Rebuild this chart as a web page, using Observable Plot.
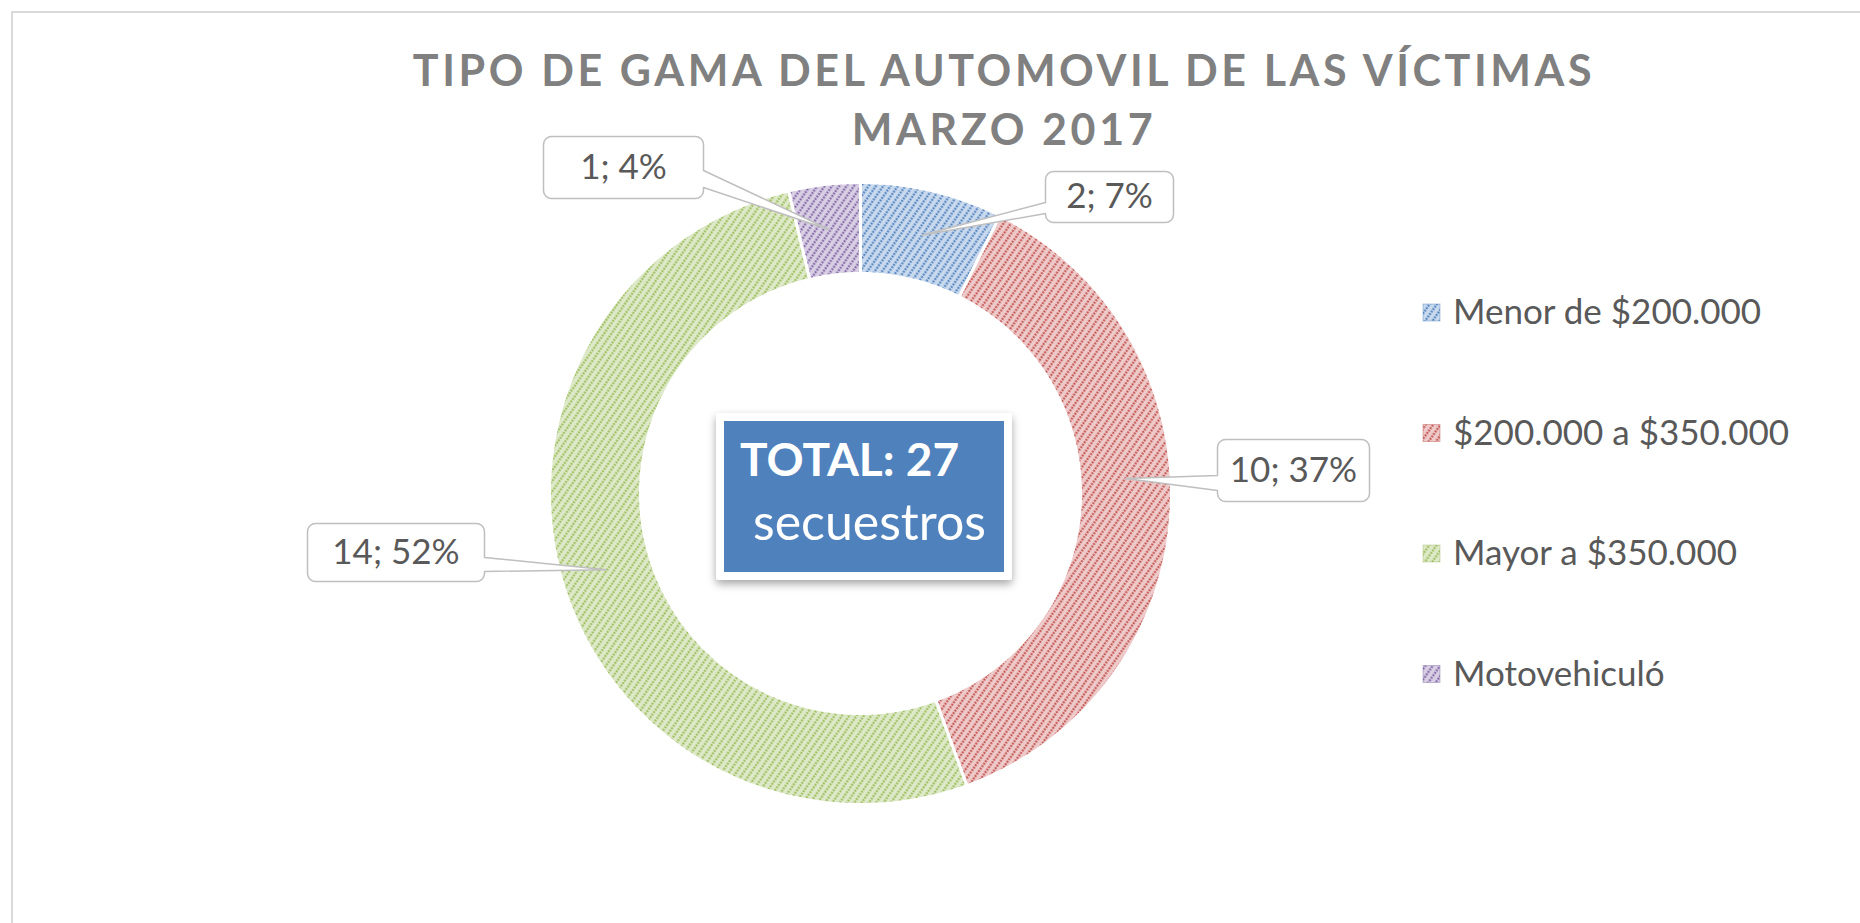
<!DOCTYPE html>
<html><head><meta charset="utf-8">
<script src="https://cdn.jsdelivr.net/npm/d3@7"></script>
<script src="https://cdn.jsdelivr.net/npm/@observablehq/plot@0.6"></script>
<style>
html,body{margin:0;padding:0;background:#fff;overflow:hidden;width:1860px;height:923px;}
#frame{position:absolute;left:11px;top:11px;width:1900px;height:1000px;border-left:2px solid #d9d9d9;border-top:2px solid #d9d9d9;}
#chart{position:absolute;left:0;top:0;}
#overlay{position:absolute;left:0;top:0;pointer-events:none;}
text{font-family:Lato, "Open Sans", sans-serif;}
</style></head><body>
<div id="frame"></div>
<div id="chart"></div>
<svg id="overlay" width="1860" height="923"></svg>
<script>
// ---- data ----
const categories = ["Menor de $200.000", "$200.000 a $350.000", "Mayor a $350.000", "Motovehiculó"];
const values = [2, 10, 14, 1];
const baseColors = ["#4f81bd", "#c0504d", "#9bbb59", "#8064a2"];
const tintColors = ["#c9d9ee", "#eecbca", "#dde9c8", "#d8cfe5"];
const titleLines = ["TIPO DE GAMA DEL AUTOMOVIL DE LAS VÍCTIMAS", "MARZO 2017"];
const totalLabel = "TOTAL:";
const totalUnit = "secuestros";

// ---- layout ----
const W = 1860, H = 923;
const CX = 860, CY = 493, R = 311, INNER = 220 / 311;
// callout boxes: pixel offsets from donut centre [left, top, right, bottom], wedge side and base,
// optional leader-tip angle shift (radians) relative to the slice mid angle
const calloutLayout = [
  {box: [185, -322, 313, -271], side: "left", base: [-291, -280], shift: 0},
  {box: [357, -54, 509, 8], side: "left", base: [-18, -3], shift: -0.115},
  {box: [-553, 30, -376, 88], side: "right", base: [64, 78], shift: 0},
  {box: [-317, -357, -157, -295], side: "right", base: [-323, -306], shift: 0}
];

const data = categories.map((c, i) => ({category: c, value: values[i], i}));
const total = d3.sum(values);
const arcs = d3.pie().sort(null).value(d => d.value).startAngle(0).endAngle(2 * Math.PI)(data);

// ---- overlay defs (patterns) ----
const overlay = d3.select("#overlay");
const defs = overlay.append("defs");
baseColors.forEach((c, i) => {
  const p = defs.append("pattern").attr("id", `hatch-${i}`).attr("patternUnits", "userSpaceOnUse")
    .attr("width", 6).attr("height", 6).attr("patternTransform", "rotate(35)");
  p.append("rect").attr("width", 6).attr("height", 6).attr("fill", tintColors[i]);
  p.append("line").attr("x1", 1.5).attr("y1", 0).attr("x2", 1.5).attr("y2", 6)
    .attr("stroke", c).attr("stroke-width", 2).attr("stroke-dasharray", "2 1");
});
const f = defs.append("filter").attr("id", "shadow").attr("x", "-20%").attr("y", "-20%").attr("width", "140%").attr("height", "150%");
f.append("feDropShadow").attr("dx", 0).attr("dy", 4).attr("stdDeviation", 4).attr("flood-color", "#000").attr("flood-opacity", 0.35);

// ---- slice polygons (in radius units) ----
function ring(a0, a1, r0, r1, n) {
  const pts = [];
  for (let k = 0; k <= n; k++) { const a = a0 + (a1 - a0) * k / n; pts.push([r1 * Math.sin(a), r1 * Math.cos(a)]); }
  for (let k = n; k >= 0; k--) { const a = a0 + (a1 - a0) * k / n; pts.push([r0 * Math.sin(a), r0 * Math.cos(a)]); }
  pts.push(pts[0]);
  return pts;
}
const sliceMarks = arcs.map(a => {
  const n = Math.max(8, Math.ceil((a.endAngle - a.startAngle) * 60));
  const pts = ring(a.startAngle, a.endAngle, INNER, 1, n).map(([x, y]) => ({x, y}));
  return Plot.line(pts, {x: "x", y: "y", fill: `url(#hatch-${a.data.i})`, stroke: "white", strokeWidth: 3, strokeLinejoin: "miter"});
});

// ---- callouts ----
function callout(layout, tx, ty) {
  const [l, t, r, b] = layout.box, rc = 8, pts = [];
  const corner = (cx, cy, t0, t1) => { for (let k = 0; k <= 4; k++) { const th = (t0 + (t1 - t0) * k / 4) * Math.PI / 180; pts.push([cx + rc * Math.cos(th), cy + rc * Math.sin(th)]); } };
  pts.push([l + rc, t]);
  corner(r - rc, t + rc, -90, 0);
  if (layout.side === "right") { pts.push([r, layout.base[0]], [tx, ty], [r, layout.base[1]]); }
  corner(r - rc, b - rc, 0, 90);
  corner(l + rc, b - rc, 90, 180);
  if (layout.side === "left") { pts.push([l, layout.base[1]], [tx, ty], [l, layout.base[0]]); }
  corner(l + rc, t + rc, 180, 270);
  pts.push(pts[0]);
  return pts.map(([x, y]) => ({x: x / R, y: -y / R}));
}
const calloutMarks = [];
const labelData = [];
arcs.forEach((a, k) => {
  const lay = calloutLayout[k];
  const mid = (a.startAngle + a.endAngle) / 2 + lay.shift, rm = (1 + INNER) / 2;
  const tx = rm * Math.sin(mid) * R, ty = -rm * Math.cos(mid) * R;
  calloutMarks.push(Plot.line(callout(lay, tx, ty), {x: "x", y: "y", fill: "white", stroke: "#bfbfbf", strokeWidth: 1.5}));
  labelData.push({
    x: (lay.box[0] + lay.box[2]) / 2 / R,
    y: -(lay.box[1] + lay.box[3]) / 2 / R,
    text: `${a.data.value}; ${Math.round(a.data.value / total * 100)}%`
  });
});

const chart = Plot.plot({
  width: W, height: H, margin: 0,
  style: {background: "transparent"},
  x: {domain: [-CX / R, (W - CX) / R], axis: null},
  y: {domain: [-(H - CY) / R, CY / R], axis: null},
  marks: [
    ...sliceMarks,
    ...calloutMarks,
    Plot.text(labelData, {x: "x", y: "y", text: "text", fontSize: 35, fill: "#595959", fontFamily: "Lato, 'Open Sans', sans-serif"})
  ]
});
document.getElementById("chart").appendChild(chart);

// ---- title ----
titleLines.forEach((t, i) => {
  overlay.append("text").attr("x", 1004).attr("y", 86 + i * 59).attr("text-anchor", "middle")
    .attr("font-size", 43).attr("font-weight", 700).attr("letter-spacing", "3.6px").attr("fill", "#808080").text(t);
});

// ---- legend ----
categories.forEach((c, i) => {
  const yb = 324 + i * 120.5;
  overlay.append("rect").attr("x", 1423).attr("y", yb - 20).attr("width", 17).attr("height", 17)
    .attr("fill", `url(#hatch-${i})`).attr("stroke", baseColors[i]).attr("stroke-opacity", 0.4).attr("stroke-width", 1);
  overlay.append("text").attr("x", 1453).attr("y", yb).attr("font-size", 35).attr("fill", "#595959").text(c);
});

// ---- centre box ----
overlay.append("rect").attr("x", 716).attr("y", 413).attr("width", 296).attr("height", 167).attr("rx", 3)
  .attr("fill", "white").attr("filter", "url(#shadow)");
overlay.append("rect").attr("x", 724).attr("y", 421).attr("width", 280).attr("height", 151).attr("fill", "#4f81bd");
overlay.append("text").attr("x", 740).attr("y", 476).attr("font-size", 46).attr("font-weight", 700).attr("fill", "white").text(`${totalLabel} ${total}`);
overlay.append("text").attr("x", 753).attr("y", 540).attr("font-size", 50).attr("fill", "white").text(totalUnit);
</script>
</body></html>
